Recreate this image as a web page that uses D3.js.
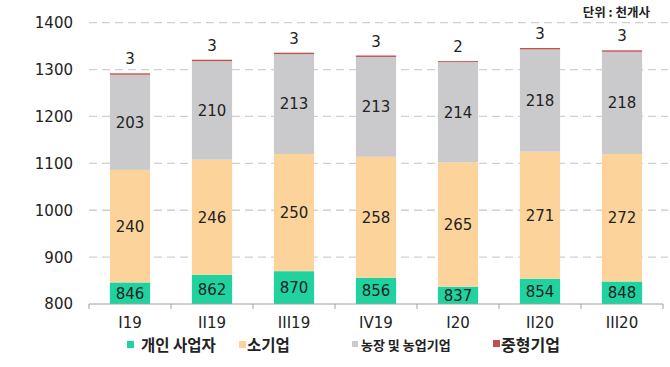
<!DOCTYPE html>
<html><head><meta charset="utf-8">
<script src="https://cdn.jsdelivr.net/npm/d3@7"></script>
<style>body{margin:0;background:#fff;} svg{display:block;}</style>
</head><body>
<svg id="c" width="670" height="367"></svg>
<script>
const categories = ["I19","II19","III19","IV19","I20","II20","III20"];
const individual = [846,862,870,856,837,854,848];
const small = [240,246,250,258,265,271,272];
const farm = [203,210,213,213,214,218,218];
const medium = [3,3,3,3,2,3,3];
const seriesNames = ["개인 사업자","소기업","농장 및 농업기업","중형기업"];
const seriesColors = ["#1fd3a0","#fcd49b","#cacacc","#c0504d"];
const yTicks = [800,900,1000,1100,1200,1300,1400];
const unitLabel = "단위 : 천개사";

const svg = d3.select("#c");
const font = "'DejaVu Sans', Verdana, sans-serif";
const m = {l:89, r:663, t:22.7, b:304};
const x = d3.scaleBand().domain(categories).range([m.l, m.r]).paddingInner(0.51).paddingOuter(0.255);
const y = d3.scaleLinear().domain([800,1400]).range([m.b, m.t]);

// grid
svg.append("g").selectAll("line").data(yTicks.slice(1)).join("line")
  .attr("x1", m.l).attr("x2", 668).attr("y1", d=>y(d)).attr("y2", d=>y(d))
  .attr("stroke","#d0d0d0").attr("stroke-width",1.3).attr("stroke-dasharray","8,5");

// y labels
svg.append("g").selectAll("text").data(yTicks).join("text")
  .attr("x", 73).attr("y", d=>y(d)).attr("dy","0.36em").attr("text-anchor","end")
  .attr("font-family",font).attr("font-size",15).attr("fill","#222").text(d=>d);

// stacked
const rows = categories.map((c,i)=>({c, vals:[individual[i], small[i], farm[i], medium[i]]}));
const g = svg.append("g");
rows.forEach(r=>{
  let base = 0;
  r.vals.forEach((v,k)=>{
    const y0 = base, y1 = base + v;
    base = y1;
    g.append("rect").attr("x", x(r.c)).attr("width", x.bandwidth())
      .attr("y", y(Math.max(y1, 800))).attr("height", Math.max(0, y(Math.max(y0,800)) - y(y1)))
      .attr("fill", seriesColors[k]);
    if (k < 3) {
      const mid = (Math.max(y0,800) + y1)/2;
      g.append("text").attr("x", x(r.c)+x.bandwidth()/2).attr("y", y(mid)).attr("dy","0.36em")
        .attr("text-anchor","middle").attr("font-family",font).attr("font-size",15).attr("fill","#222").text(v);
    } else {
      g.append("text").attr("x", x(r.c)+x.bandwidth()/2).attr("y", y(y1)-9)
        .attr("text-anchor","middle").attr("font-family",font).attr("font-size",15).attr("fill","#222").text(v);
    }
  });
});

// x axis
svg.append("line").attr("x1",m.l).attr("x2",m.r).attr("y1",m.b).attr("y2",m.b).attr("stroke","#a0a0a0").attr("stroke-width",1);
const bounds = d3.range(categories.length+1).map(i=>m.l + i*(m.r-m.l)/categories.length);
svg.append("g").selectAll("line").data(bounds).join("line")
  .attr("x1",d=>d).attr("x2",d=>d).attr("y1",m.b).attr("y2",m.b+5).attr("stroke","#a0a0a0");
svg.append("g").selectAll("text").data(categories).join("text")
  .attr("x", d=>x(d)+x.bandwidth()/2).attr("y", 323).attr("dy","0.36em").attr("text-anchor","middle")
  .attr("font-family",font).attr("font-size",15).attr("fill","#222").text(d=>d);

// legend
const leg = [
  {sx:127, sy:341, ss:7, tx:141, fs:15.5},
  {sx:239, sy:341, ss:7, tx:247, fs:15.5},
  {sx:352, sy:341, ss:6, tx:361, fs:13},
  {sx:493, sy:340, ss:7, tx:501, fs:16}
];
leg.forEach((l,i)=>{
  svg.append("rect").attr("x",l.sx).attr("y",l.sy).attr("width",l.ss).attr("height",l.ss).attr("fill",seriesColors[i]);
  svg.append("text").attr("x",l.tx).attr("y",345).attr("dy","0.36em")
    .attr("font-family","'Noto Sans CJK KR', sans-serif").attr("font-weight","bold").attr("font-size",l.fs).attr("fill","#222").text(seriesNames[i]);
});

svg.append("text").attr("x",650).attr("y",12).attr("dy","0.36em").attr("text-anchor","end")
  .attr("font-family","'Noto Sans CJK KR', sans-serif").attr("font-weight","bold").attr("font-size",12.5).attr("fill","#222").text(unitLabel);
</script>
</body></html>
